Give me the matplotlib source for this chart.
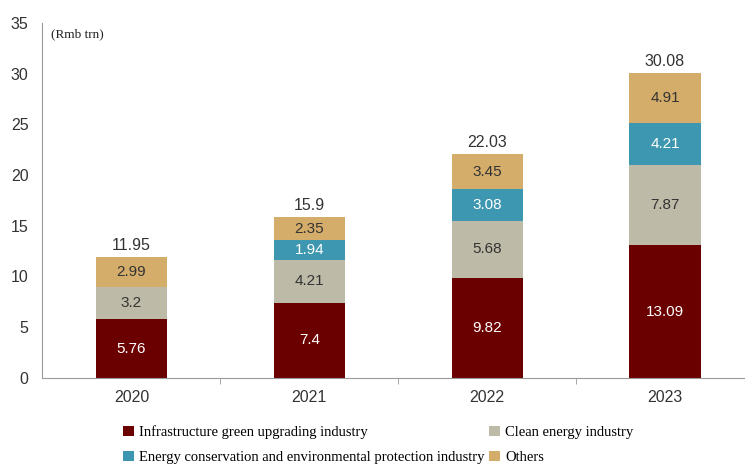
import numpy as np
import matplotlib.pyplot as plt

years = ['2020', '2021', '2022', '2023']
infra = [5.76, 7.4, 9.82, 13.09]
clean = [3.2, 4.21, 5.68, 7.87]
energy = [0, 1.94, 3.08, 4.21]
others = [2.99, 2.35, 3.45, 4.91]
totals = [11.95, 15.9, 22.03, 30.08]

series = [
    ('Infrastructure green upgrading industry', infra, '#6b0000', 'white'),
    ('Clean energy industry', clean, '#bdbaa7', '#333333'),
    ('Energy conservation and environmental protection industry', energy, '#3e97b0', 'white'),
    ('Others', others, '#d4ad6a', '#333333'),
]

fig = plt.figure(figsize=(7.45, 4.66), dpi=100)
ax = fig.add_axes([0.057, 0.189, 0.943, 0.762])

x = np.arange(len(years))
bottom = np.zeros(len(years))
handles = {}
for name, vals, color, tcolor in series:
    vals = np.array(vals)
    b = ax.bar(x, vals, 0.4, bottom=bottom, color=color, label=name)
    handles[name] = b
    for xi, v, bt in zip(x, vals, bottom):
        if v > 0:
            ax.text(xi, bt + v / 2, f'{v:g}', ha='center', va='center',
                    color=tcolor, fontsize=11, family='Liberation Sans')
    bottom += vals

for xi, t in zip(x, totals):
    ax.text(xi, t + 0.4, f'{t:g}', ha='center', va='bottom',
            color='#333333', fontsize=11.5, family='Liberation Sans')

ax.set_xlim(-0.5, 3.45)
ax.set_ylim(0, 35)
ax.set_yticks(range(0, 36, 5))
ax.set_xticks(x)
ax.set_xticklabels(years)
ax.set_xticks(np.arange(0.5, 3, 1), minor=True)
ax.tick_params(axis='x', which='major', length=0, pad=9)
ax.tick_params(axis='x', which='minor', length=4, color='#999999')
ax.tick_params(axis='y', length=0, pad=10)
for lab in ax.get_xticklabels() + ax.get_yticklabels():
    lab.set_fontfamily('Liberation Sans')
    lab.set_fontsize(11.5)
    lab.set_color('#333333')
for s in ['top', 'right']:
    ax.spines[s].set_visible(False)
ax.spines['left'].set_color('#999999')
ax.spines['bottom'].set_color('#999999')

ax.text(0.012, 0.985, '(Rmb trn)', transform=ax.transAxes, ha='left', va='top',
        fontsize=9.5, family='Liberation Serif', color='#222222')

order = [series[0][0], series[2][0], series[1][0], series[3][0]]
fig.legend([handles[n] for n in order], order, ncol=2, loc='lower left',
           bbox_to_anchor=(0.148, -0.024), frameon=False,
           prop={'family': 'Liberation Serif', 'size': 10.5},
           handlelength=0.7, handleheight=0.7, handletextpad=0.4,
           columnspacing=0.3, labelspacing=0.8)

fig.savefig('out.png', dpi=100)
